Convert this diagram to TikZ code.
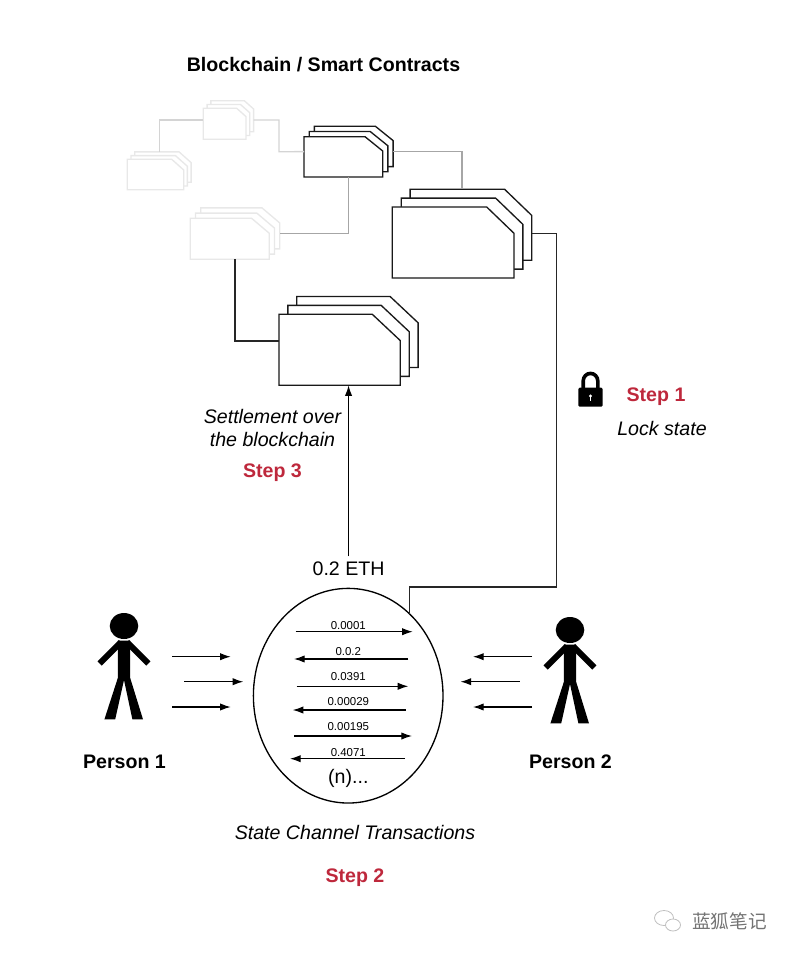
\documentclass[tikz,border=0pt]{standalone}
\usepackage{fontspec}
\setmainfont{Liberation Sans}
\newfontfamily\cjkfont{Noto Sans CJK SC}
\usetikzlibrary{arrows.meta,fit,shapes.geometric}

\definecolor{stepred}{RGB}{190,40,60}
\tikzset{every picture/.style={line width=1pt}}
\tikzset{
  page/.style={draw=black!90,fill=white,line join=miter},
  fadedpage/.style={draw=black!9,fill=white,line join=miter},
  stackbound/.style={inner sep=0pt,outer sep=0pt},
  link/.style={draw=black!85},
  fadedlink/.style={draw=black!17},
  greylink/.style={draw=black!35},
  flow/.style={-{Latex[length=8pt,width=5.5pt]},line width=0.85pt},
  bigtext/.style={inner sep=0.75pt,font=\fontsize{14.7}{17.25}\selectfont},
  boldtext/.style={bigtext,font=\fontsize{14.7}{17.25}\selectfont\bfseries},
  steptext/.style={boldtext,text=stepred},
  slanttext/.style={bigtext,align=center,font=\fontsize{14.7}{17.25}\selectfont\itshape},
  txtext/.style={inner sep=0.75pt,font=\fontsize{8.6}{10}\selectfont},
  stickman/.pic={
    \fill (0,0) ellipse [x radius=14.3,y radius=13];
    \fill (-6.2,14.6) -- (6.2,14.6) -- (6.2,52) -- (19,93.4) -- (8.4,93.4) -- (0,54) -- (-8.8,93.4) -- (-19.6,93.4) -- (-6.2,52) -- cycle;
    \draw [line width=4.5pt] (-3,16) -- (-24.3,37.5);
    \draw [line width=4.5pt] (3,16) -- (24.3,37.5);
  }
}

\begin{document}
\begin{tikzpicture}[x=0.75pt,y=0.75pt,yscale=-1,xscale=1]
\useasboundingbox (0,0) rectangle (793,955);

% Faded stacks
\draw [fadedpage] (210.9,100.7) -- ++(33.4,0) -- ++(9.3,8.3) -- ++(0,22.7) -- ++(-42.7,0) -- cycle;
\draw [fadedpage] (207.1,104.5) -- ++(33.4,0) -- ++(9.3,8.3) -- ++(0,22.7) -- ++(-42.7,0) -- cycle;
\draw [fadedpage] (203.3,108.3) -- ++(33.4,0) -- ++(9.3,8.3) -- ++(0,22.7) -- ++(-42.7,0) -- cycle;
\draw [fadedpage] (134.7,151.9) -- ++(44.4,0) -- ++(12,10.7) -- ++(0,19.7) -- ++(-56.4,0) -- cycle;
\draw [fadedpage] (131,155.6) -- ++(44.4,0) -- ++(12,10.7) -- ++(0,19.7) -- ++(-56.4,0) -- cycle;
\draw [fadedpage] (127.3,159.3) -- ++(44.4,0) -- ++(12,10.7) -- ++(0,19.7) -- ++(-56.4,0) -- cycle;
\draw [fadedpage] (200.7,207.9) -- ++(61.3,0) -- ++(17.7,15) -- ++(0,26) -- ++(-79,0) -- cycle;
\draw [fadedpage] (195.5,213.1) -- ++(61.3,0) -- ++(17.7,15) -- ++(0,26) -- ++(-79,0) -- cycle;
\draw [fadedpage] (190.3,218.3) -- ++(61.3,0) -- ++(17.7,15) -- ++(0,26) -- ++(-79,0) -- cycle;

% Dark stacks
\draw [page] (314.4,126.3) -- ++(61,0) -- ++(17.7,14.3) -- ++(0,26) -- ++(-78.7,0) -- cycle;
\draw [page] (309.2,131.5) -- ++(61,0) -- ++(17.7,14.3) -- ++(0,26) -- ++(-78.7,0) -- cycle;
\draw [page] (304,136.7) -- ++(61,0) -- ++(17.7,14.3) -- ++(0,26) -- ++(-78.7,0) -- cycle;
\draw [page] (410.1,189.2) -- ++(94.4,0) -- ++(27.3,26.3) -- ++(0,44.7) -- ++(-121.7,0) -- cycle;
\draw [page] (401.2,198.1) -- ++(94.4,0) -- ++(27.3,26.3) -- ++(0,44.7) -- ++(-121.7,0) -- cycle;
\draw [page] (392.3,207) -- ++(94.4,0) -- ++(27.3,26.3) -- ++(0,44.7) -- ++(-121.7,0) -- cycle;
\draw [page] (296.8,296.5) -- ++(93.3,0) -- ++(28,26.3) -- ++(0,44.7) -- ++(-121.3,0) -- cycle;
\draw [page] (287.9,305.4) -- ++(93.3,0) -- ++(28,26.3) -- ++(0,44.7) -- ++(-121.3,0) -- cycle;
\draw [page] (279,314.3) -- ++(93.3,0) -- ++(28,26.3) -- ++(0,44.7) -- ++(-121.3,0) -- cycle;

% Stack outlines for the links
\node [stackbound,fit={(203.3,100.7) (253.6,139.3)}] (stackA) {};
\node [stackbound,fit={(127.3,151.9) (191.1,189.7)}] (stackF) {};
\node [stackbound,fit={(190.3,207.9) (279.7,259.3)}] (stackE) {};
\node [stackbound,fit={(304,126.3) (393.1,177)}] (stackB) {};
\node [stackbound,fit={(392.3,189.2) (531.8,278)}] (stackC) {};
\node [stackbound,fit={(279,296.5) (418.1,385.3)}] (stackD) {};

% Channel
\node [draw=black,ellipse,inner sep=0pt,outer sep=0pt,minimum width=142.2pt,minimum height=161pt] (channel) at (348.2,695.7) {};
\coordinate (lockturn) at (556.7,587);

% Links
\draw [fadedlink] (stackA.west) -| (stackF.north);
\draw [fadedlink] (stackA.east) -| (279,151.7) -- (stackB.west);
\draw [greylink] (stackB.east) -| (stackC.north);
\draw [greylink] (stackB.south) |- (stackE.east);
\draw [link] (stackE.south) |- (stackD.west);
\draw [link] (stackC.east) -| (lockturn) -| (channel.53.7);

% Text Node
\draw (323.5,65) node [boldtext] (title) {Blockchain / Smart Contracts};
\draw (272.5,427.5) node [slanttext] (settlement) {Settlement over\\the blockchain};
\draw (272.5,473) node [steptext] (stepthree) {Step 3};
\draw (348.55,569) node [bigtext] (amount) {0.2 ETH};
\draw (656,397) node [steptext] (stepone) {Step 1};
\draw (662,428) node [slanttext] (lockstate) {Lock state};
\draw (124.5,762) node [boldtext] (personone) {Person 1};
\draw (570.5,762) node [boldtext] (persontwo) {Person 2};
\draw (355,832) node [slanttext] (channelname) {State Channel Transactions};
\draw (355,878) node [steptext] (steptwo) {Step 2};
\draw (348.3,778.7) node [bigtext] (more) {(n)...};

\draw [flow,shorten <=3pt] (amount.north) -- (stackD.south);

% Transactions
\coordinate (txa) at (295.7,631.7); \coordinate (txA) at (412.7,631.7);
\coordinate (txb) at (408.3,659); \coordinate (txB) at (294,659);
\coordinate (txc) at (296.7,686.3); \coordinate (txC) at (408.3,686.3);
\coordinate (txd) at (405.7,710); \coordinate (txD) at (292.7,710);
\coordinate (txe) at (294,736); \coordinate (txE) at (412,736);
\coordinate (txf) at (405,758.7); \coordinate (txF) at (290,758.7);
\draw [flow] (txa) -- (txA);
\draw [flow] (txb) -- (txB);
\draw [flow] (txc) -- (txC);
\draw [flow] (txd) -- (txD);
\draw [flow] (txe) -- (txE);
\draw [flow] (txf) -- (txF);
\draw (348.3,626) node [txtext] (amounta) {0.0001};
\draw (348.3,651.7) node [txtext] (amountb) {0.0.2};
\draw (348.3,676.7) node [txtext] (amountc) {0.0391};
\draw (348.3,701.7) node [txtext] (amountd) {0.00029};
\draw (348.3,727) node [txtext] (amounte) {0.00195};
\draw (348.3,752.3) node [txtext] (amountf) {0.4071};

% Persons
\pic [yscale=-1] at (124,626) {stickman};
\pic [yscale=-1] at (570,630) {stickman};
\coordinate (onea) at (172,656.7); \coordinate (oneA) at (230.7,656.7);
\coordinate (oneb) at (184.3,681.7); \coordinate (oneB) at (243.3,681.7);
\coordinate (onec) at (172,707); \coordinate (oneC) at (230.7,707);
\coordinate (twoa) at (532,656.7); \coordinate (twoA) at (473,656.7);
\coordinate (twob) at (519.5,681.7); \coordinate (twoB) at (460.5,681.7);
\coordinate (twoc) at (532,707); \coordinate (twoC) at (473,707);
\draw [flow] (onea) -- (oneA);
\draw [flow] (oneb) -- (oneB);
\draw [flow] (onec) -- (oneC);
\draw [flow] (twoa) -- (twoA);
\draw [flow] (twob) -- (twoB);
\draw [flow] (twoc) -- (twoC);

% Lock
\fill [rounded corners=1pt] (578.3,387.7) rectangle (602.7,406.7);
\draw [line width=2.7pt] (583.2,388) -- (583.2,381) arc [start angle=180,end angle=360,x radius=7.3,y radius=7.6] -- (597.8,388);
\fill [white] (590.5,396) circle [radius=1.7];
\fill [white] (589.8,396) rectangle (591.2,401);

% Watermark
\draw [black!25,line width=0.6pt] (664,918) ellipse [x radius=9.5,y radius=7.5];
\draw [black!25,fill=white,line width=0.6pt] (673,925) ellipse [x radius=7.5,y radius=6];
\draw (729.5,921) node [inner sep=0.75pt,text=black!55,font=\fontsize{14}{16}\cjkfont] (watermark) {蓝狐笔记};
\end{tikzpicture}
\end{document}
